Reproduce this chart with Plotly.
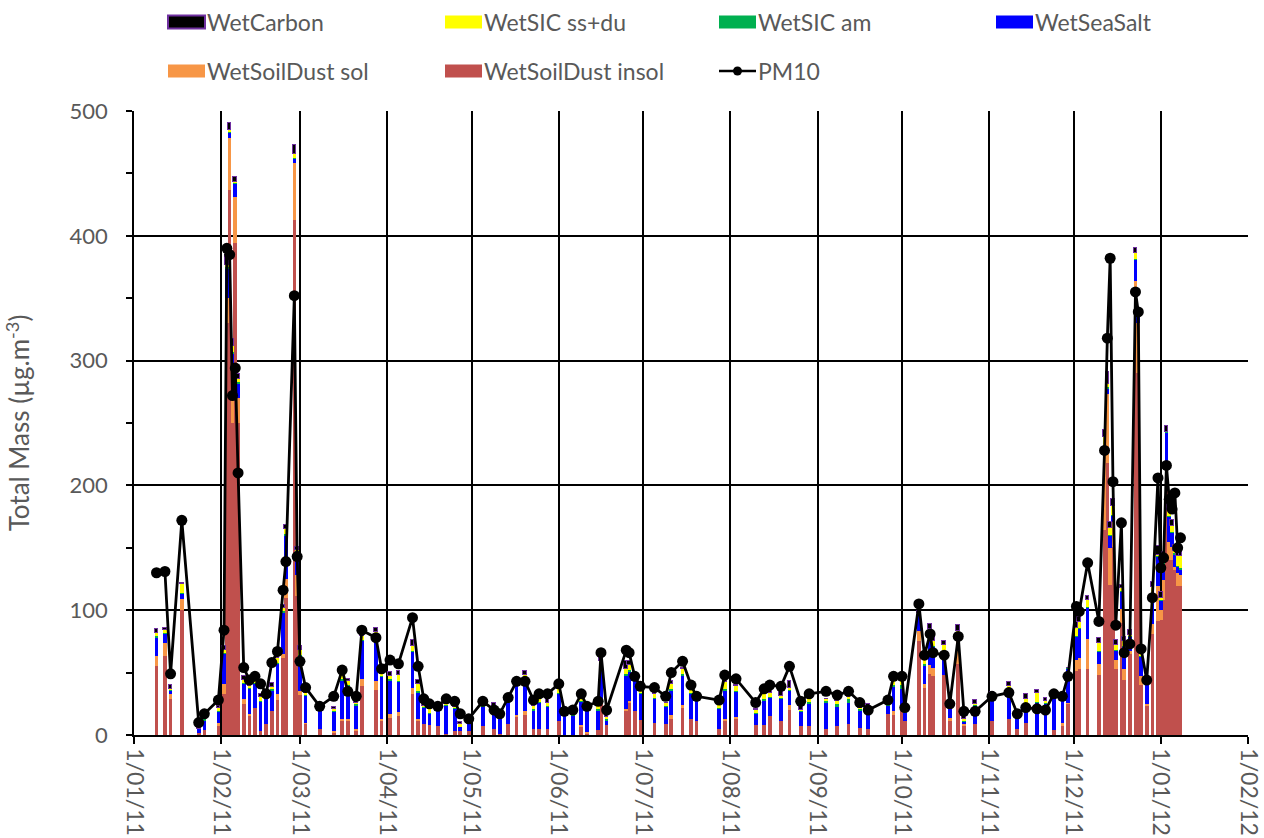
import pandas as pd
import plotly.graph_objects as go

# ---------------- data ----------------
start_date = "2011-01-01"
# sampling day (days after 1 Jan 2011)
sample_day = [8, 11, 13, 17, 23, 25, 30, 32, 33, 34,
              35, 36, 37, 39, 41, 43, 45, 47, 49, 51,
              53, 54, 57, 58, 59, 61, 66, 71, 74, 76,
              79, 81, 86, 88, 91, 94, 99, 101, 103, 105,
              108, 111, 114, 116, 119, 124, 128, 130, 133, 136,
              139, 142, 144, 147, 151, 153, 156, 159, 161, 165,
              166, 168, 175, 176, 178, 180, 185, 189, 191, 195,
              198, 200, 208, 210, 214, 221, 224, 226, 230, 233,
              237, 240, 246, 250, 254, 258, 261, 268, 270, 273,
              274, 279, 281, 283, 284, 288, 290, 293, 295, 299,
              305, 311, 314, 317, 321, 324, 327, 330, 332, 335,
              336, 339, 343, 345, 346, 347, 348, 349, 351, 352,
              354, 356, 357, 358, 360, 362, 364, 365, 366, 367,
              368, 369, 370, 371, 372]

pm10 = [130, 131, 49, 172, 10, 17, 28, 84, 390, 385,
        272, 294, 210, 54, 44, 47, 41, 33, 58, 67,
        116, 139, 352, 143, 59, 38, 23, 31, 52, 35,
        31, 84, 78, 53, 60, 57, 94, 55, 29, 25,
        23, 29, 27, 17, 13, 27, 20, 17, 30, 43,
        43, 28, 33, 33, 41, 19, 20, 33, 23, 27,
        66, 20, 68, 66, 47, 39, 38, 31, 50, 59,
        40, 31, 28, 48, 45, 26, 37, 40, 39, 55,
        27, 33, 35, 32, 35, 26, 20, 28, 47, 47,
        22, 105, 64, 81, 66, 64, 25, 79, 19, 19,
        31, 34, 17, 22, 21, 20, 33, 31, 47, 103,
        99, 138, 91, 228, 318, 382, 203, 88, 170, 66,
        73, 355, 339, 69, 44, 110, 206, 134, 142, 216,
        189, 181, 194, 150, 158]

wet_soildust_insol = [55, 63, 29, 100, 2, 4, 7, 33, 330, 437,
                      250, 394, 250, 25, 15, 22, 3, 9, 19, 28,
                      62, 110, 413, 111, 32, 9, 5, 2, 11, 11,
                      4, 39, 36, 11, 14, 15, 33, 12, 9, 8,
                      7, 1, 3, 3.5, 3, 7, 5, 1, 9, 15,
                      16, 5, 5, 4.5, 11.5, 0, 0, 7, 1.5, 4,
                      26, 8, 19, 26, 19, 12, 10, 9, 13, 22,
                      12.5, 11, 4.5, 12, 12.5, 8, 8, 15, 11, 20,
                      7, 7.5, 4.5, 7.5, 9, 6, 4.5, 17, 16, 21,
                      11, 75, 38, 49, 47, 48, 11, 57, 7.5, 9,
                      11, 13, 5, 10, 0, 0, 4, 7, 25, 51,
                      53, 53, 48, 164, 218, 120, 151, 53, 90, 44,
                      65, 311, 290, 40, 23, 81, 91, 92, 108, 199,
                      140, 140, 132, 119, 119]

wet_soildust_sol = [8, 11, 4, 9, 0, 0, 3, 8, 20, 41,
                    40, 37, 20, 4, 2, 0, 0, 0, 0, 5,
                    3, 15, 45, 17, 3, 1, 0, 1, 2, 2,
                    1, 6, 7.5, 2, 3, 3.5, 5, 1, 0, 0,
                    0, 0, 0, 0, 0, 0, 0, 0, 0, 1,
                    3, 0, 0, 0, 0, 0, 0, 1, 1, 0,
                    3, 0, 2, 1, 0, 0, 0, 0, 3, 2,
                    0, 0, 0, 1, 2, 0, 0, 0, 0, 4,
                    0, 0, 0, 0, 0, 0, 0, 0, 3, 0,
                    0, 8, 3, 7, 7, 0, 3, 20, 1, 0,
                    0, 0, 0, 0, 0, 0, 0, 3, 1, 9,
                    9, 24, 9, 60, 55, 30, 20, 7, 11, 9,
                    2, 53, 40, 7, 2, 8, 28, 8, 16, 20,
                    15, 11, 3, 11, 9]

wet_seasalt = [15, 7, 3, 4, 3, 8, 9, 24, 24, 5,
               16, 11, 12, 12, 20, 19, 24, 21, 17, 24,
               33, 35, 4, 19, 28, 22, 17, 16, 31, 26,
               19, 31, 38, 34, 27, 24, 29, 21, 13, 9,
               17, 23, 18, 3, 7, 16, 16, 13, 17, 25,
               23, 15, 21, 18, 22, 21, 16, 19, 19, 16,
               26, 4, 27, 24, 27, 21, 19, 14, 20, 23,
               21, 17, 17, 23, 20, 9, 20, 15, 18, 12,
               12, 18, 21, 15, 17, 14, 17, 7, 20, 16,
               7, 14, 15, 28, 17, 19, 9, 3, 2, 15,
               22, 23, 11, 15.5, 26, 25, 27, 19.5, 27, 19,
               23, 25, 10, 8, 5, 10, 5, 8, 14, 18,
               12, 17, 5, 16, 19, 23, 24, 8, 13, 23,
               20, 11, 10, 5, 5]

wet_sic_am = [1, 1, 0.5, 1, 0, 0.5, 0.5, 1, 1, 0.5,
              1, 0.5, 0.5, 0.5, 0.5, 0.5, 0.5, 0.5, 0.5, 1,
              1, 1, 0.5, 0.5, 1, 0.5, 0.5, 0.5, 1, 1,
              1, 0.5, 0.5, 1, 0.5, 0.5, 0.5, 1, 0.5, 0.5,
              0.5, 0.5, 1, 0.5, 0, 0.5, 1, 0.5, 0.5, 0.5,
              2, 0.5, 0.5, 0.5, 0.5, 0.5, 1, 0.5, 0.5, 0.5,
              1, 0.5, 1, 1, 0.5, 0.5, 0.5, 0.5, 0.5, 2,
              0.5, 0.5, 0.5, 0.5, 0.5, 1, 0.5, 0.5, 0.5, 0.5,
              0.5, 1, 2, 2.5, 2.5, 1, 0.5, 0.5, 1, 3,
              1, 0.5, 0.5, 0.5, 0.5, 0.5, 0, 0.5, 0.5, 0.5,
              0.5, 0.5, 0.5, 0.5, 0.5, 0.5, 0.5, 0.5, 0.5, 0.5,
              0.5, 0.5, 0.5, 0.5, 0.5, 0.5, 0.5, 0.5, 0.5, 0.5,
              0.5, 0.5, 0.5, 0.5, 0.5, 0.5, 0.5, 0.5, 0.5, 0.5,
              0.5, 0.5, 0.5, 0.5, 0.5]

wet_sic_ssdu = [3, 2, 0.5, 7, 0, 3, 2, 2, 2, 1,
                5, 1, 3, 2.5, 2, 2, 3, 1, 2, 4,
                3, 4, 3, 0.5, 4, 1, 0.5, 1, 5, 3,
                1, 3, 0.5, 1, 3, 5, 4, 6, 1, 3,
                0.5, 0.5, 0.5, 1.5, 0, 0.5, 0.5, 0, 0.5, 1,
                4, 3, 2, 2.5, 3, 0, 0, 2, 0.5, 3,
                3, 2, 4, 4, 3, 2, 3.5, 2, 4, 4,
                3.5, 3, 3, 6, 4, 2, 4, 3, 2, 1,
                0.5, 2, 1, 2.5, 2, 1, 0, 0, 3, 3,
                0.5, 0.5, 4, 0.5, 4, 5, 0, 3, 2, 0.5,
                0.5, 3, 0, 3, 7.5, 2, 1, 1, 0, 6,
                5, 6, 6, 6, 3, 5, 7, 4, 2, 4,
                1, 5, 3, 2, 0, 6, 1, 1, 4, 0,
                5, 5, 2, 8, 10]

wet_carbon = [3, 1.5, 3, 1, 0.5, 1, 2, 3, 8, 6,
              5, 4, 4, 3, 1, 1, 2, 1, 3, 1,
              2, 3, 7, 3, 3, 2, 1, 2, 1, 2,
              1, 0.5, 3, 1, 3, 3, 5, 3, 2, 1,
              1, 1, 1, 2, 0.5, 1, 3, 1, 2, 1,
              3, 0.5, 1, 3, 0.5, 0, 0.5, 0.5, 0.5, 0.5,
              4, 3, 6, 3, 0.5, 1, 0.5, 0.5, 3, 1,
              0.5, 0.5, 0.5, 3, 1, 0.5, 0.5, 3, 4, 6,
              3, 0.5, 0.5, 0.5, 0.5, 1, 2.5, 1, 3, 1,
              0.5, 1, 0.5, 4, 4, 3, 0.5, 5, 2, 3,
              0.5, 3, 1, 3.5, 2, 2, 1, 0.5, 0.5, 5,
              4, 3, 4, 6, 9, 5, 6, 4, 3, 3,
              4, 4, 2, 1, 0.5, 4, 7, 5, 5, 5,
              5, 5, 5, 5, 3]

month_ticks = ["2011-01-01", "2011-02-01", "2011-03-01", "2011-04-01",
               "2011-05-01", "2011-06-01", "2011-07-01", "2011-08-01",
               "2011-09-01", "2011-10-01", "2011-11-01", "2011-12-01",
               "2012-01-01", "2012-02-01"]
month_labels = ["1/01/11", "1/02/11", "1/03/11", "1/04/11", "1/05/11",
                "1/06/11", "1/07/11", "1/08/11", "1/09/11", "1/10/11",
                "1/11/11", "1/12/11", "1/01/12", "1/02/12"]

# ---------------- figure ----------------
dates = pd.to_datetime(start_date) + pd.to_timedelta(sample_day, unit="D")
DAY_MS = 86400000
FONT = "Lato, 'Open Sans', sans-serif"
GREY = "#595959"

series = [
    ("WetSoilDust insol", wet_soildust_insol, "#C0504D", None),
    ("WetSoilDust sol", wet_soildust_sol, "#F79646", None),
    ("WetSeaSalt", wet_seasalt, "#0000FF", None),
    ("WetSIC am", wet_sic_am, "#00B050", None),
    ("WetSIC ss+du", wet_sic_ssdu, "#FFFF00", None),
    ("WetCarbon", wet_carbon, "#000000", "#7030A0"),
]

fig = go.Figure()
for name, vals, color, line_col in series:
    fig.add_trace(go.Bar(
        x=dates, y=vals, name=name, width=1.3 * DAY_MS,
        marker=dict(color=color,
                    line=dict(color=line_col if line_col else color,
                              width=1 if line_col else 0)),
        showlegend=False,
    ))

fig.add_trace(go.Scatter(
    x=dates, y=pm10, name="PM10", mode="lines+markers",
    line=dict(color="black", width=2.8),
    marker=dict(color="black", size=11),
    showlegend=False,
))

# ---------------- custom legend (layout decoration) ----------------
PX_L, PX_R, PX_T, PX_B = 134, 1248, 111, 735


def px_x(x):
    return (x - PX_L) / (PX_R - PX_L)


def px_y(y):
    return (PX_B - y) / (PX_B - PX_T)


legend_items = [
    ("WetCarbon", "#000000", "#7030A0", 168, 22),
    ("WetSIC ss+du", "#FFFF00", None, 445, 22),
    ("WetSIC am", "#00B050", None, 719, 22),
    ("WetSeaSalt", "#0000FF", None, 996, 22),
    ("WetSoilDust sol", "#F79646", None, 168, 71),
    ("WetSoilDust insol", "#C0504D", None, 445, 71),
]
shapes = []
annotations = []
for label, fill, border, lx, ly in legend_items:
    shapes.append(dict(
        type="rect", xref="paper", yref="paper",
        x0=px_x(lx), x1=px_x(lx + 37), y0=px_y(ly + 6.5), y1=px_y(ly - 6.5),
        fillcolor=fill,
        line=dict(color=border if border else fill, width=2 if border else 0),
    ))
    annotations.append(dict(
        text=label, xref="paper", yref="paper", x=px_x(lx + 37), y=px_y(ly),
        xanchor="left", yanchor="middle", showarrow=False,
        font=dict(family=FONT, size=23, color=GREY),
    ))
# PM10 legend entry
shapes.append(dict(type="line", xref="paper", yref="paper",
                   x0=px_x(719), x1=px_x(756), y0=px_y(71), y1=px_y(71),
                   line=dict(color="black", width=2.5)))
shapes.append(dict(type="circle", xref="paper", yref="paper",
                   x0=px_x(733), x1=px_x(742), y0=px_y(75.5), y1=px_y(66.5),
                   fillcolor="black", line=dict(color="black", width=0)))
annotations.append(dict(
    text="PM10", xref="paper", yref="paper", x=px_x(756), y=px_y(71),
    xanchor="left", yanchor="middle", showarrow=False,
    font=dict(family=FONT, size=23, color=GREY),
))

fig.update_layout(
    width=1264, height=838,
    margin=dict(l=134, r=16, t=111, b=103, autoexpand=False),
    paper_bgcolor="white", plot_bgcolor="white",
    barmode="stack", bargap=0,
    font=dict(family=FONT, color=GREY),
    shapes=shapes, annotations=annotations,
    showlegend=False,
)
fig.update_xaxes(
    type="date", range=[month_ticks[0], month_ticks[-1]],
    tickmode="array", tickvals=month_ticks, ticktext=month_labels,
    tickangle=90, tickfont=dict(family=FONT, size=23, color=GREY),
    showgrid=True, gridcolor="black", gridwidth=1.5,
    showline=True, linecolor="black", linewidth=1.5,
    ticks="outside", ticklen=7, tickcolor="black", tickwidth=1.5,
)
fig.update_yaxes(
    range=[0, 500], tick0=0, dtick=100,
    tickfont=dict(family=FONT, size=22, color=GREY),
    showgrid=True, gridcolor="black", gridwidth=1.5,
    showline=True, linecolor="black", linewidth=1.5, zeroline=False,
    ticks="outside", ticklen=6, tickcolor="black", tickwidth=1.5,
    ticklabelstandoff=14,
    minor=dict(dtick=50, ticks="outside", ticklen=6, tickcolor="black",
               tickwidth=1.5, showgrid=False),
    title=dict(text="Total Mass (µg.m<sup>-3</sup>)",
               font=dict(family=FONT, size=26, color=GREY), standoff=32),
)

fig.write_html(
    "out.html",
    config={"displayModeBar": False},
    post_script="document.body.style.margin='0';"
                "document.body.style.overflow='hidden';",
)
